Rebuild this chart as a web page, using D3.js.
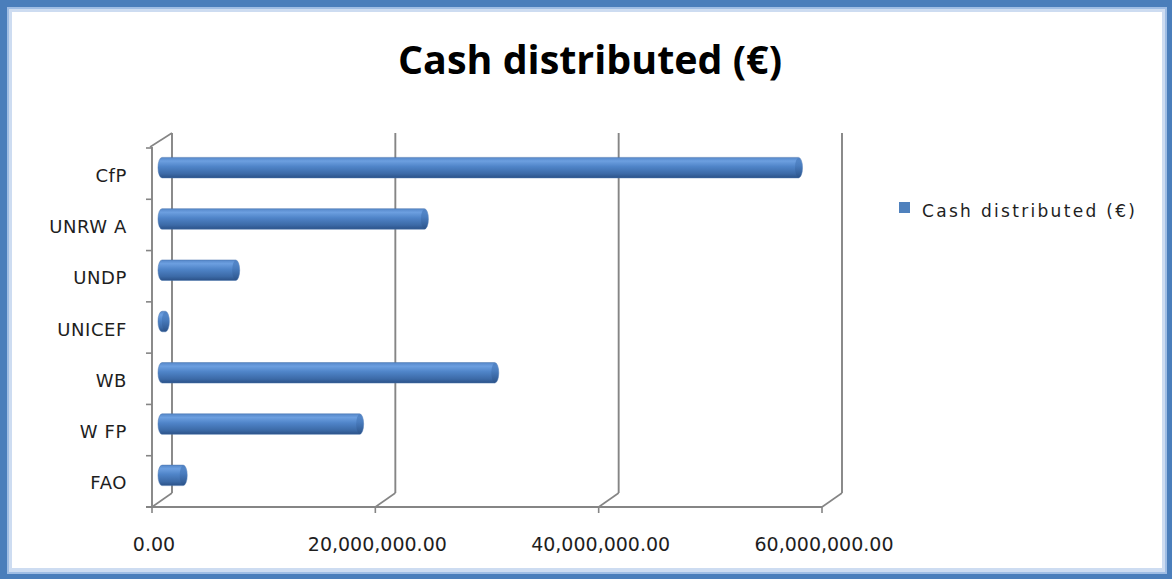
<!DOCTYPE html>
<html>
<head>
<meta charset="utf-8">
<script src="https://cdn.jsdelivr.net/npm/d3@7"></script>
<style>
  html, body { margin: 0; padding: 0; background: #ffffff; }
  svg { display: block; }
</style>
</head>
<body>
<svg id="chart" width="1172" height="579"></svg>
<script>
// ---- data ----
const categories = ["CfP", "UNRWA", "UNDP", "UNICEF", "WB", "WFP", "FAO"];
const categoryLabels = ["CfP", "UNRW A", "UNDP", "UNICEF", "WB", "W FP", "FAO"];
const values = [57000000, 23500000, 6600000, 300000, 29800000, 17700000, 1900000];
const tickValues = [0, 20000000, 40000000, 60000000];
const tickLabels = ["0.00", "20,000,000.00", "40,000,000.00", "60,000,000.00"];
const seriesName = "Cash distributed (€)";
const titleText = "Cash distributed (€)";

// ---- layout ----
const W = 1172, H = 579;
const svg = d3.select("#chart");

// frame
svg.append("rect").attr("x", 0).attr("y", 0).attr("width", W).attr("height", H).attr("fill", "#4a7ebb");
svg.append("rect").attr("x", 7).attr("y", 7).attr("width", W - 12).attr("height", H - 12).attr("fill", "#9fbde4");
svg.append("rect").attr("x", 9).attr("y", 9).attr("width", W - 16).attr("height", H - 16).attr("fill", "#cddcf1");
svg.append("rect").attr("x", 12).attr("y", 12).attr("width", W - 22).attr("height", H - 23).attr("fill", "#ffffff");

// scales (front plane)
const front = { left: 152, right: 822, top: 147, bottom: 507 };
const depth = { dx: 20, dy: -14 };
const x = d3.scaleLinear().domain([0, 60000000]).range([front.left, front.right]);
const y = d3.scaleBand().domain(categories).range([148, front.bottom]).paddingInner(0.6).paddingOuter(0.3);

const gridColor = "#858585";
const g = svg.append("g");

// back-wall gridlines + floor diagonals
tickValues.forEach(v => {
  const xf = x(v), xb = x(v) + depth.dx;
  g.append("line").attr("x1", xb).attr("x2", xb)
    .attr("y1", front.top + depth.dy).attr("y2", front.bottom + depth.dy)
    .attr("stroke", gridColor).attr("stroke-width", 1.9);
  g.append("line").attr("x1", xf).attr("x2", xb)
    .attr("y1", front.bottom).attr("y2", front.bottom + depth.dy)
    .attr("stroke", gridColor).attr("stroke-width", 1.6);
});

// left wall front edge & top diagonal
g.append("line").attr("x1", front.left).attr("x2", front.left)
  .attr("y1", front.top).attr("y2", front.bottom)
  .attr("stroke", gridColor).attr("stroke-width", 1.9);
g.append("line").attr("x1", front.left - 2).attr("x2", front.left + depth.dx)
  .attr("y1", front.top).attr("y2", front.top + depth.dy)
  .attr("stroke", gridColor).attr("stroke-width", 1.6);
// floor front edge
g.append("line").attr("x1", front.left - 6).attr("x2", front.right)
  .attr("y1", front.bottom).attr("y2", front.bottom)
  .attr("stroke", gridColor).attr("stroke-width", 1.9);

// category boundary ticks
const step = y.step();
d3.range(categories.length + 1).forEach(i => {
  const yy = y(categories[0]) - y.paddingInner() * step / 2 + i * step;
  g.append("line").attr("x1", front.left - 6).attr("x2", front.left)
    .attr("y1", yy).attr("y2", yy)
    .attr("stroke", gridColor).attr("stroke-width", 1.6);
});

// x ticks
tickValues.forEach((v, i) => {
  g.append("line").attr("x1", x(v)).attr("x2", x(v))
    .attr("y1", front.bottom).attr("y2", front.bottom + 6)
    .attr("stroke", gridColor).attr("stroke-width", 1.6);
  g.append("text").attr("x", x(v) + 2).attr("y", 551)
    .attr("text-anchor", "middle")
    .attr("font-family", "DejaVu Sans, Verdana, sans-serif")
    .attr("font-size", 19).attr("fill", "#1e1e1e")
    .text(tickLabels[i]);
});

// category labels
categories.forEach((c, i) => {
  g.append("text").attr("x", 127).attr("y", y(c) + y.bandwidth() / 2 + 3)
    .attr("text-anchor", "end").attr("dominant-baseline", "middle")
    .attr("font-family", "DejaVu Sans, Verdana, sans-serif")
    .attr("font-size", 18).attr("letter-spacing", "0.6px").attr("fill", "#1e1e1e")
    .text(categoryLabels[i]);
});

// bar gradient
const defs = svg.append("defs");
const grad = defs.append("linearGradient").attr("id", "barGrad")
  .attr("x1", 0).attr("y1", 0).attr("x2", 0).attr("y2", 1);
[["0%", "#5587c9"], ["18%", "#6c9fe0"], ["45%", "#4f84c8"], ["80%", "#3c6aa7"], ["100%", "#2b5288"]]
  .forEach(s => grad.append("stop").attr("offset", s[0]).attr("stop-color", s[1]));
const capGrad = defs.append("linearGradient").attr("id", "capGrad")
  .attr("x1", 0).attr("y1", 0).attr("x2", 0).attr("y2", 1);
[["0%", "#4a7dbf"], ["40%", "#4577b8"], ["100%", "#2b5288"]]
  .forEach(s => capGrad.append("stop").attr("offset", s[0]).attr("stop-color", s[1]));

// bars at mid depth
const mdx = depth.dx / 2, mdy = depth.dy / 2 + 1;
const rx = 4;
categories.forEach((c, i) => {
  const x0 = x(0) + mdx, x1 = x(values[i]) + mdx;
  const h = y.bandwidth();
  const top = y(c) + mdy;
  const ry = h / 2;
  const p = `M${x0},${top} L${x1},${top} A${rx},${ry} 0 0 1 ${x1},${top + h} L${x0},${top + h} A${rx},${ry} 0 0 1 ${x0},${top} Z`;
  g.append("path").attr("d", p).attr("fill", "url(#barGrad)")
    .attr("stroke", "#4a74ad").attr("stroke-width", 0.5);
  g.append("ellipse").attr("cx", x1).attr("cy", top + ry).attr("rx", rx - 0.5).attr("ry", ry - 0.5)
    .attr("fill", "url(#capGrad)").attr("opacity", 0.7);
});

// title
svg.append("text").attr("x", 590).attr("y", 74)
  .attr("text-anchor", "middle")
  .attr("font-family", "Open Sans, Liberation Sans, sans-serif")
  .attr("font-weight", "bold").attr("font-size", 40).attr("fill", "#000")
  .attr("textLength", 384).attr("lengthAdjust", "spacingAndGlyphs")
  .text(titleText);

// legend
svg.append("rect").attr("x", 899).attr("y", 202).attr("width", 11).attr("height", 11).attr("fill", "#4f81bd");
svg.append("text").attr("x", 922).attr("y", 217)
  .attr("font-family", "DejaVu Sans, Verdana, sans-serif")
  .attr("font-size", 17).attr("fill", "#1e1e1e")
  .attr("textLength", 213).attr("lengthAdjust", "spacing")
  .text(seriesName);
</script>
</body>
</html>
